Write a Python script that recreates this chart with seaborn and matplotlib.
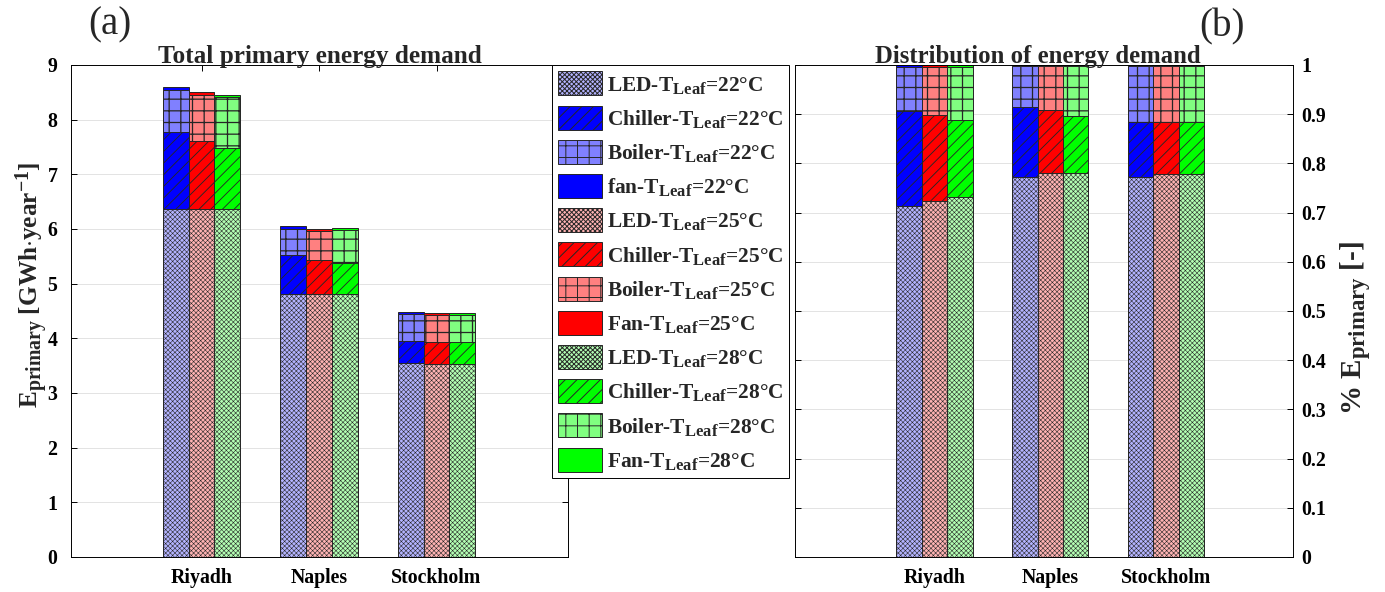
import numpy as np
import pandas as pd
import matplotlib
matplotlib.use("Agg")
import matplotlib.pyplot as plt
import matplotlib._mathtext as mathtext_internal
from matplotlib.patches import Patch
import seaborn as sns

cities = ["Riyadh", "Naples", "Stockholm"]
temps = ["22", "25", "28"]

# Annual primary energy per end use [GWh/year]
led_22 = [6.36, 4.81, 3.54]
chiller_22 = [1.41, 0.72, 0.42]
boiler_22 = [0.77, 0.47, 0.49]
fan_22 = [0.06, 0.05, 0.03]

led_25 = [6.36, 4.81, 3.53]
chiller_25 = [1.25, 0.63, 0.41]
boiler_25 = [0.84, 0.52, 0.48]
fan_25 = [0.05, 0.04, 0.04]

led_28 = [6.36, 4.81, 3.53]
chiller_28 = [1.13, 0.57, 0.41]
boiler_28 = [0.92, 0.61, 0.49]
fan_28 = [0.04, 0.03, 0.04]

# Share of primary energy per end use [-]
share_led_22 = [0.713, 0.773, 0.772]
share_chiller_22 = [0.194, 0.142, 0.112]
share_boiler_22 = [0.088, 0.082, 0.113]
share_fan_22 = [0.005, 0.003, 0.003]

share_led_25 = [0.723, 0.780, 0.778]
share_chiller_25 = [0.176, 0.129, 0.107]
share_boiler_25 = [0.096, 0.088, 0.112]
share_fan_25 = [0.005, 0.003, 0.003]

share_led_28 = [0.731, 0.780, 0.778]
share_chiller_28 = [0.157, 0.117, 0.106]
share_boiler_28 = [0.108, 0.100, 0.113]
share_fan_28 = [0.004, 0.003, 0.003]

energy = {
    "22": (led_22, chiller_22, boiler_22, fan_22),
    "25": (led_25, chiller_25, boiler_25, fan_25),
    "28": (led_28, chiller_28, boiler_28, fan_28),
}
shares = {
    "22": (share_led_22, share_chiller_22, share_boiler_22, share_fan_22),
    "25": (share_led_25, share_chiller_25, share_boiler_25, share_fan_25),
    "28": (share_led_28, share_chiller_28, share_boiler_28, share_fan_28),
}

colors = {
    "22": {"LED": "#b3b3ff", "Chiller": "#0000ff", "Boiler": "#8080ff", "Fan": "#0000ff"},
    "25": {"LED": "#ffb3b3", "Chiller": "#ff0000", "Boiler": "#ff8080", "Fan": "#ff0000"},
    "28": {"LED": "#b3ffb3", "Chiller": "#00ff00", "Boiler": "#80ff80", "Fan": "#00ff00"},
}
hatches = {"LED": "xxxxx", "Chiller": "//", "Boiler": "+", "Fan": None}
hatch_lw = {"LED": 0.55, "Chiller": 0.9, "Boiler": 1.3, "Fan": 1.0}
EDGE = "#262626"

sns.set_theme(style="white")
DPI = 70
plt.rcParams.update({
    "font.family": ["Liberation Serif", "DejaVu Serif"],
    "font.weight": "bold",
    "axes.labelweight": "bold",
    "axes.titleweight": "bold",
    "mathtext.fontset": "custom",
    "mathtext.rm": "Liberation Serif:bold",
    "mathtext.it": "Liberation Serif:italic:bold",
    "mathtext.bf": "Liberation Serif:bold",
    "axes.edgecolor": "black",
    "axes.linewidth": 1.0,
    "xtick.color": "black",
    "ytick.color": "black",
})
# slightly larger sub/superscripts than the mathtext default
mathtext_internal.SHRINK_FACTOR = 0.78

W, H = 1385, 592
fig = plt.figure(figsize=(W / DPI, H / DPI), dpi=DPI)


def px_axes(x0, x1, y0, y1):
    return fig.add_axes([x0 / W, 1 - y1 / H, (x1 - x0) / W, (y1 - y0) / H])


ax1 = px_axes(71, 568, 65, 557)
ax2 = px_axes(795, 1293, 65, 557)


def draw_stack(ax, table):
    # cumulative heights, drawn tallest first so each lower segment covers the one above
    layers = ["Fan", "Boiler", "Chiller", "LED"]
    for depth, name in enumerate(layers):
        rows = []
        for t in temps:
            parts = table[t]
            n_parts = 4 - depth
            for i, c in enumerate(cities):
                rows.append({"city": c, "temp": t,
                             "value": sum(p[i] for p in parts[:n_parts])})
        df = pd.DataFrame(rows)
        with plt.rc_context({"hatch.linewidth": hatch_lw[name]}):
            sns.barplot(data=df, x="city", y="value", hue="temp",
                        order=cities, hue_order=temps,
                        palette=[colors[t][name] for t in temps],
                        saturation=1, width=0.66, gap=0, dodge=True,
                        errorbar=None, edgecolor=EDGE, linewidth=1.0,
                        hatch=hatches[name], legend=False, ax=ax)


draw_stack(ax1, energy)
draw_stack(ax2, shares)

tick_fs = 20.5
for ax in (ax1, ax2):
    ax.set_axisbelow(True)
    ax.yaxis.grid(True, color="#e3e3e3", linewidth=1.0)
    ax.xaxis.grid(False)
    ax.set_xlabel("")
    for s in ax.spines.values():
        s.set_visible(True)
        s.set_color("black")
        s.set_linewidth(1.0)
    ax.tick_params(axis="both", direction="in", length=6, width=1.0,
                   top=True, bottom=True, left=True, right=True,
                   labelsize=tick_fs)
    ax.tick_params(axis="x", pad=11)

ax1.set_xlim(-1.111, 3.119)
ax1.set_ylim(0, 9)
ax1.set_yticks(range(0, 10))
ax1.set_yticklabels([str(v) for v in range(0, 10)])
ax1.tick_params(axis="y", pad=14)
ax1.set_xticks(range(len(cities)))
ax1.set_xticklabels(cities)
ax1.set_ylabel(r"E$_{\mathrm{primary}}$ [GWh$\cdot$year$^{\mathrm{-1}}$]",
               fontsize=26, fontweight="bold")
ax1.yaxis.set_label_coords(-0.042, 0.553)
ax1.set_title("Total primary energy demand", fontsize=26, fontweight="bold", pad=2)

ax2.set_xlim(-1.203, 3.095)
ax2.set_ylim(0, 1)
yt = np.round(np.arange(0, 1.01, 0.1), 1)
ax2.set_yticks(yt)
ax2.set_yticklabels(["0" if v == 0 else ("1" if v == 1 else f"{v:.1f}") for v in yt])
ax2.yaxis.set_ticks_position("both")
ax2.tick_params(axis="y", labelleft=False, labelright=True, pad=9)
ax2.set_xticks(range(len(cities)))
ax2.set_xticklabels(cities)
ax2.yaxis.set_label_position("right")
ax2.set_ylabel(r"% E$_{\mathrm{primary}}$ [-]", fontsize=30, fontweight="bold")
ax2.yaxis.set_label_coords(1.092, 0.465)
ax2.set_title("Distribution of energy demand", fontsize=25.5, fontweight="bold",
              pad=2, x=0.487)

for lbl in ax1.get_xticklabels() + ax2.get_xticklabels():
    lbl.set_fontweight("bold")

# legend: one entry per end use and leaf temperature
handles, labels = [], []
names = {"22": ["LED", "Chiller", "Boiler", "fan"],
         "25": ["LED", "Chiller", "Boiler", "Fan"],
         "28": ["LED", "Chiller", "Boiler", "Fan"]}
for t in temps:
    for key, shown in zip(["LED", "Chiller", "Boiler", "Fan"], names[t]):
        with plt.rc_context({"hatch.linewidth": hatch_lw[key]}):
            handles.append(Patch(facecolor=colors[t][key], edgecolor=EDGE,
                                 hatch=hatches[key], linewidth=1.0))
        labels.append(shown + r"-T$_{\mathrm{Leaf}}$=" + t + "°C")

leg = fig.legend(handles, labels, loc="upper left",
                 bbox_to_anchor=(552 / W, 1 - 65 / H), bbox_transform=fig.transFigure,
                 fontsize=22, frameon=True, fancybox=False, framealpha=1,
                 edgecolor="black", borderpad=0.3, borderaxespad=0,
                 handlelength=2.05, handleheight=1.35, handletextpad=0.2,
                 labelspacing=0.47)
leg.get_frame().set_linewidth(1.0)

fig.text(110 / W, 1 - 25 / H, "(a)", fontsize=40, fontweight="normal",
         ha="center", va="center")
fig.text(1222 / W, 1 - 27 / H, "(b)", fontsize=40, fontweight="normal",
         ha="center", va="center")

fig.savefig("out.png", dpi=DPI)
